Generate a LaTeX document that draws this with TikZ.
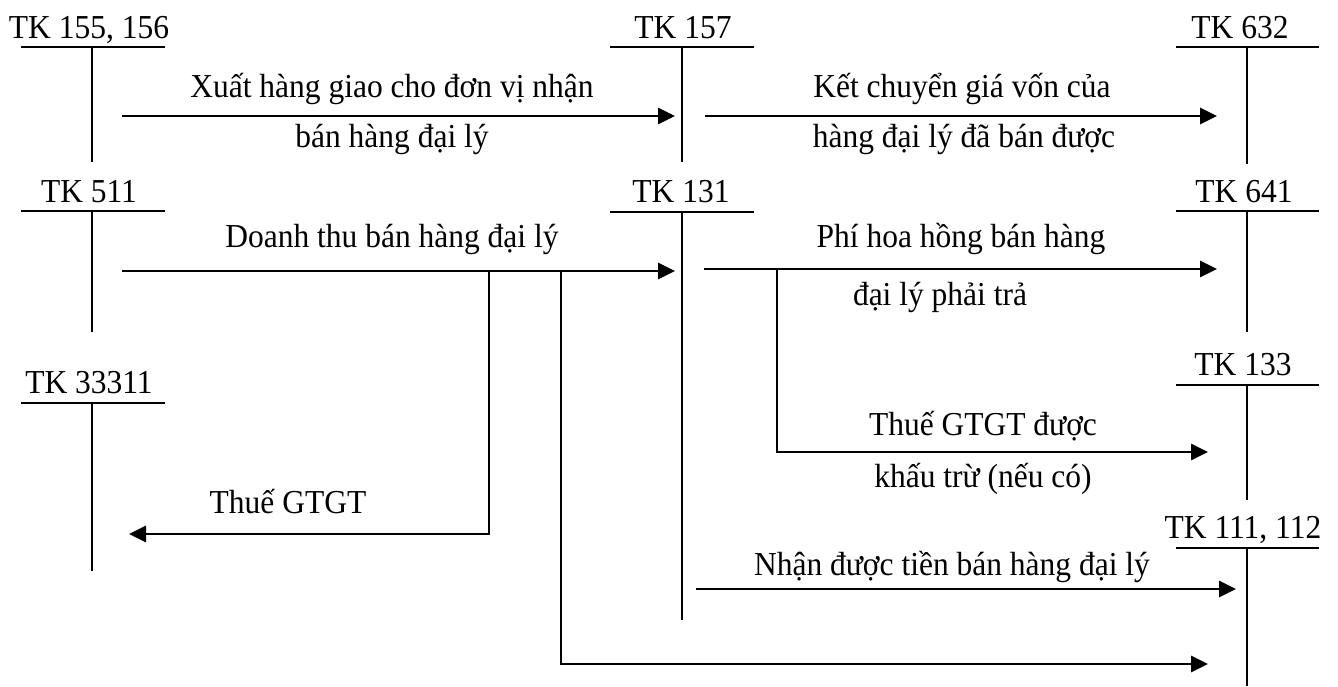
\documentclass[tikz,border=0pt]{standalone}
\usepackage{fontspec}
\setmainfont[FakeStretch=0.94]{Liberation Serif}
\usetikzlibrary{arrows.meta}
\begin{document}
\begin{tikzpicture}[x=1pt,y=-1pt,
  acc/.style={line width=2pt},
  flow/.style={line width=2.8pt,-{Triangle[length=17pt,width=16pt]}},
  lbl/.style={anchor=base,inner sep=0pt,font=\fontsize{33.5}{38}\selectfont}]
\useasboundingbox (0,0) rectangle (1338,686);

% ---- T-accounts ----
\node[lbl] (t155) at (89,38) {TK 155, 156};
\draw[acc] (21,47) -- (165,47) (92,47) -- (92,162);
\node[lbl] (t157) at (683,38) {TK 157};
\draw[acc] (610,47) -- (754,47) (682,47) -- (682,162);
\node[lbl] (t632) at (1240,38) {TK 632};
\draw[acc] (1176,47) -- (1319,47) (1247,47) -- (1247,164);

\node[lbl] (t511) at (89,202) {TK 511};
\draw[acc] (21,211) -- (165,211) (92,211) -- (92,332);
\node[lbl] (t131) at (681,202) {TK 131};
\draw[acc] (610,212) -- (754,212) (682,212) -- (682,620);
\node[lbl] (t641) at (1244,202) {TK 641};
\draw[acc] (1176,211) -- (1319,211) (1247,211) -- (1247,332);

\node[lbl] (t33311) at (89,393) {TK 33311};
\draw[acc] (21,403) -- (165,403) (92,403) -- (92,571);
\node[lbl] (t133) at (1243,375) {TK 133};
\draw[acc] (1176,385) -- (1319,385) (1247,385) -- (1247,500);
\node[lbl] (t111) at (1243,538) {TK 111, 112};
\draw[acc] (1176,548) -- (1319,548) (1247,548) -- (1247,686);

% ---- connector end points ----
\coordinate (a1s) at (122,116);  \coordinate (a1e) at (675,116);
\coordinate (a2s) at (705,116);  \coordinate (a2e) at (1217,116);
\coordinate (a3s) at (122,271);  \coordinate (a3e) at (675,271);
\coordinate (a4s) at (704,269);  \coordinate (a4e) at (1217,269);
\coordinate (b1s) at (489,271);  \coordinate (b1c) at (489,534); \coordinate (b1e) at (129,534);
\coordinate (b2s) at (561,271);  \coordinate (b2c) at (561,664); \coordinate (b2e) at (1208,664);
\coordinate (b3s) at (777,269);  \coordinate (b3c) at (777,452); \coordinate (b3e) at (1208,452);
\coordinate (a5s) at (696,589);  \coordinate (a5e) at (1236,589);

% ---- connectors ----
\draw[flow] (a1s) -- (a1e);
\draw[flow] (a2s) -- (a2e);
\draw[flow] (a3s) -- (a3e);
\draw[flow] (a4s) -- (a4e);
\draw[flow] (b1s) -- (b1c) -- (b1e);
\draw[flow] (b2s) -- (b2c) -- (b2e);
\draw[flow] (b3s) -- (b3c) -- (b3e);
\draw[flow] (a5s) -- (a5e);

% ---- labels ----
\node[lbl] (l1a) at (392,97) {Xuất hàng giao cho đơn vị nhận};
\node[lbl] (l1b) at (392,147) {bán hàng đại lý};
\node[lbl] (l2a) at (962,97) {Kết chuyển giá vốn của};
\node[lbl] (l2b) at (964,147) {hàng đại lý đã bán được};
\node[lbl] (l3) at (392,247) {Doanh thu bán hàng đại lý};
\node[lbl] (l4a) at (961,247) {Phí hoa hồng bán hàng};
\node[lbl] (l4b) at (940,305) {đại lý phải trả};
\node[lbl] (l5a) at (983,435) {Thuế GTGT được};
\node[lbl] (l5b) at (983,487) {khấu trừ (nếu có)};
\node[lbl] (l6) at (952,575) {Nhận được tiền bán hàng đại lý};
\node[lbl] (l7) at (288,513) {Thuế GTGT};
\end{tikzpicture}
\end{document}
